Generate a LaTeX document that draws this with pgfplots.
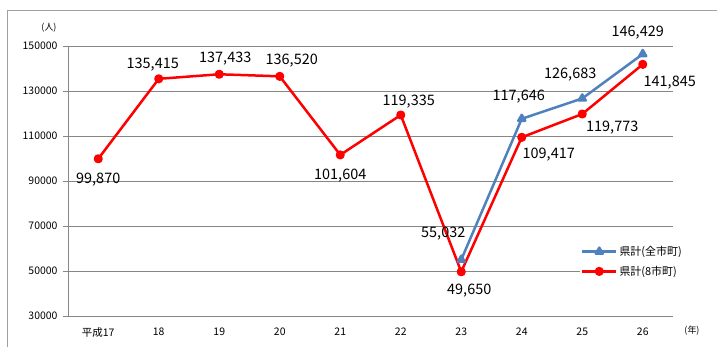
\documentclass[border=0pt]{standalone}
\usepackage{pgfplots}
\pgfplotsset{compat=1.18}
\usepackage{fontspec}
\setmainfont{Noto Sans CJK JP}
\newfontfamily\lab{Noto Sans CJK JP}
\definecolor{blueS}{RGB}{79,129,189}
\definecolor{redS}{RGB}{255,0,0}
\definecolor{gridc}{RGB}{134,134,134}
\definecolor{framec}{RGB}{160,160,160}
\begin{document}
\begin{tikzpicture}
\draw[framec, line width=1bp] (-60bp,-40bp) rectangle (700bp,305bp);
\begin{axis}[
 scale only axis, width=605bp, height=270bp,
 xmin=-0.5, xmax=9.5, ymin=30000, ymax=150000,
 scaled y ticks=false,
 axis lines=left, axis line style={draw=gridc, line width=0.8bp, -},
 xtick={0,...,9},
 xticklabels={平成17,18,19,20,21,22,23,24,25,26},
 xtick style={draw=none},
 extra x ticks={-0.5,0.5,...,9.5},
 extra x tick labels={},
 extra x tick style={tick style={draw=gridc, line width=0.8bp}},
 ytick={30000,50000,...,150000},
 yticklabels={30000,50000,70000,90000,110000,130000,150000},
 ytick style={draw=gridc, line width=0.8bp},
 ymajorgrids, grid style={draw=gridc, line width=0.8bp},
 tick align=outside, major tick length=5bp,
 tick label style={font=\fontsize{10.5}{12}\selectfont, text=black},
 yticklabel style={xshift=-2bp},
 xticklabel style={yshift=-3bp},
 clip=false,
 legend style={at={(0.846,0.27)}, anchor=north west, draw=none, fill=white,
   font=\fontsize{11}{13}\selectfont, row sep=5bp, inner sep=1bp},
 legend cell align=left,
 legend image code/.code={\draw[mark repeat=2,mark phase=2] plot coordinates {(0bp,0bp) (17bp,0bp) (34bp,0bp)};},
]
\addplot[blueS, line width=2.5bp, line join=round, mark=triangle*, mark size=4bp, mark options={solid}]
 coordinates {(6,55032)(7,117646)(8,126683)(9,146429)};
\addlegendentry{県計(全市町)}
\addplot[redS, line width=2.5bp, line join=round, mark=*, mark size=3.3bp, mark options={solid}]
 coordinates {(0,99870)(1,135415)(2,137433)(3,136520)(4,101604)(5,119335)(6,49650)(7,109417)(8,119773)(9,141845)};
\addlegendentry{県計(8市町)}
\begin{scope}[every node/.style={font=\lab\fontsize{14.5}{16}\selectfont, inner sep=0pt}]
\node[xshift=0bp,yshift=-21bp] at (axis cs:0,99870) {99,870};
\node[xshift=-6bp,yshift=14bp] at (axis cs:1,135415) {135,415};
\node[xshift=6bp,yshift=16bp] at (axis cs:2,137433) {137,433};
\node[xshift=12bp,yshift=16bp] at (axis cs:3,136520) {136,520};
\node[xshift=0bp,yshift=-21bp] at (axis cs:4,101604) {101,604};
\node[xshift=8bp,yshift=13bp] at (axis cs:5,119335) {119,335};
\node[xshift=8bp,yshift=-19bp] at (axis cs:6,49650) {49,650};
\node[xshift=27bp,yshift=-17bp] at (axis cs:7,109417) {109,417};
\node[xshift=30bp,yshift=-14bp] at (axis cs:8,119773) {119,773};
\node[xshift=27bp,yshift=-18bp] at (axis cs:9,141845) {141,845};
\node[xshift=-18bp,yshift=26bp] at (axis cs:6,55032) {55,032};
\node[xshift=-3bp,yshift=22bp] at (axis cs:7,117646) {117,646};
\node[xshift=-12bp,yshift=24bp] at (axis cs:8,126683) {126,683};
\node[xshift=-5bp,yshift=21bp] at (axis cs:9,146429) {146,429};
\end{scope}
\end{axis}
\node[font=\fontsize{9}{10}\selectfont] at (-19bp,288bp) {(人)};
\node[font=\fontsize{9}{10}\selectfont] at (624bp,-15bp) {(年)};
\pgfresetboundingbox
\useasboundingbox (-68bp,-31bp) rectangle (649bp,316bp);
\end{tikzpicture}
\end{document}
